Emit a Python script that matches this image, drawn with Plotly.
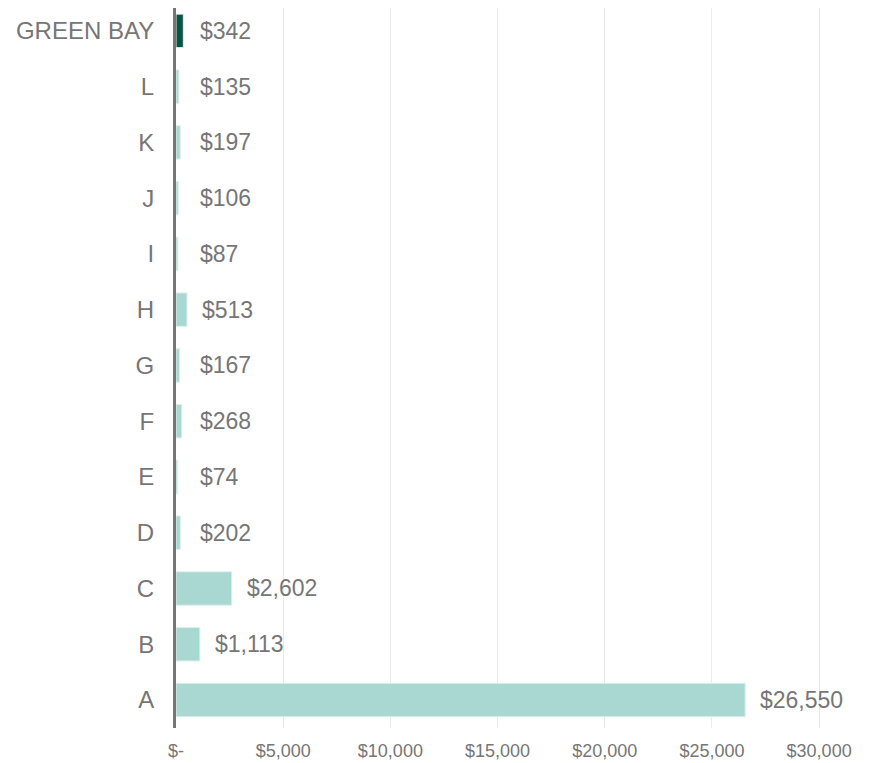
import plotly.graph_objects as go

categories = ["A", "B", "C", "D", "E", "F", "G", "H", "I", "J", "K", "L", "GREEN BAY"]
values = [26550, 1113, 2602, 202, 74, 268, 167, 513, 87, 106, 197, 135, 342]
tick_vals = [0, 5000, 10000, 15000, 20000, 25000, 30000]
tick_text = ["$-", "$5,000", "$10,000", "$15,000", "$20,000", "$25,000", "$30,000"]

colors = ["#0b5345" if c == "GREEN BAY" else "#a8d8d1" for c in categories]

# labels of very short bars all line up at one spot, like the original
label_floor = 420
label_x = [max(v, label_floor) for v in values]

fig = go.Figure(go.Bar(
    x=values, y=categories, orientation="h",
    marker=dict(color=colors, line=dict(color="#dff0ec", width=1)),
    width=0.6, hoverinfo="x+y",
))

for cat, v, lx in zip(categories, values, label_x):
    fig.add_annotation(x=lx, y=cat, text=f"${v:,}", showarrow=False,
                       xanchor="left", yanchor="middle", xshift=13,
                       font=dict(size=23, color="#767676", family="Liberation Sans, Arial"))

# the page has an 8px body margin, so the figure is a bit smaller than the window
fig.update_layout(
    width=869, height=755,
    margin=dict(l=168, r=0, t=0, b=35),
    plot_bgcolor="white", paper_bgcolor="white",
    showlegend=False,
    font=dict(family="Liberation Sans, Arial", color="#767676"),
    xaxis=dict(range=[0, 32700], tickvals=tick_vals, ticktext=tick_text,
               showgrid=True, gridcolor="#ebebeb", gridwidth=1, zeroline=False,
               tickfont=dict(size=18, color="#767676"), ticks="", showline=False,
               ticklabelstandoff=10, automargin=False),
    yaxis=dict(categoryorder="array", categoryarray=categories,
               range=[-0.502, 12.41],
               showline=True, linecolor="#767676", linewidth=3,
               tickfont=dict(size=24, color="#767676"), ticks="",
               ticklabelstandoff=14, showgrid=False, automargin=False),
)

fig.write_html("out.html")
